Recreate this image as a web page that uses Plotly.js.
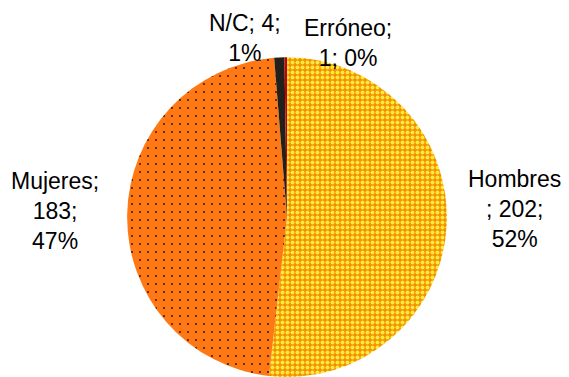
<!DOCTYPE html>
<html>
<head>
<meta charset="utf-8">
<script src="https://cdn.plot.ly/plotly-3.0.1.min.js"></script>
<style>html,body{margin:0;padding:0;background:#fff;}#chart{width:569px;height:377px;}</style>
</head>
<body>
<div id="chart"></div>
<script>
var categories = ["Hombres", "Mujeres", "N/C", "Erróneo"];
var counts = [202, 183, 4, 1];
var percents = ["52%", "47%", "1%", "0%"];
var sliceColors = ["#F39200", "#FF7814", "#231F1A", "#C00000"];
var dotColors = ["#FFE840", "#2a1a10", "#231F1A", "#C00000"];

// label text layouts (line breaks as in the reference)
var labelTexts = [
  categories[0] + "<br>; " + counts[0] + ";<br>" + percents[0],
  categories[1] + ";<br>" + counts[1] + ";<br>" + percents[1],
  categories[2] + "; " + counts[2] + ";<br>" + percents[2],
  categories[3] + ";<br>" + counts[3] + "; " + percents[3]
];
var labelPos = [[0.905, 0.445], [0.097, 0.44], [0.431, 0.90], [0.612, 0.885]];

var trace = {
  type: "pie",
  labels: categories,
  values: counts,
  sort: false,
  direction: "clockwise",
  rotation: 0,
  textinfo: "none",
  hoverinfo: "label+value+percent",
  domain: {x: [0.2232, 0.7856], y: [0, 0.848]},
  marker: {
    colors: sliceColors,
    line: {width: 0},
    pattern: {
      shape: [".", ".", "", ""],
      bgcolor: sliceColors,
      fgcolor: dotColors,
      size: [5, 8, 8, 8],
      solidity: [0.5, 0.05, 0.3, 0.3],
      fillmode: "replace"
    }
  }
};

var annotations = labelTexts.map(function (t, i) {
  return {
    text: t, xref: "paper", yref: "paper",
    x: labelPos[i][0], y: labelPos[i][1],
    xanchor: "center", yanchor: "middle", align: "center",
    showarrow: false,
    font: {family: "Liberation Sans, Arial, sans-serif", size: 23, color: "#000"}
  };
});

var layout = {
  width: 569, height: 377,
  margin: {l: 0, r: 0, t: 0, b: 0},
  paper_bgcolor: "#fff",
  showlegend: false,
  annotations: annotations
};

Plotly.newPlot("chart", [trace], layout, {displayModeBar: false, staticPlot: true});
</script>
</body>
</html>
